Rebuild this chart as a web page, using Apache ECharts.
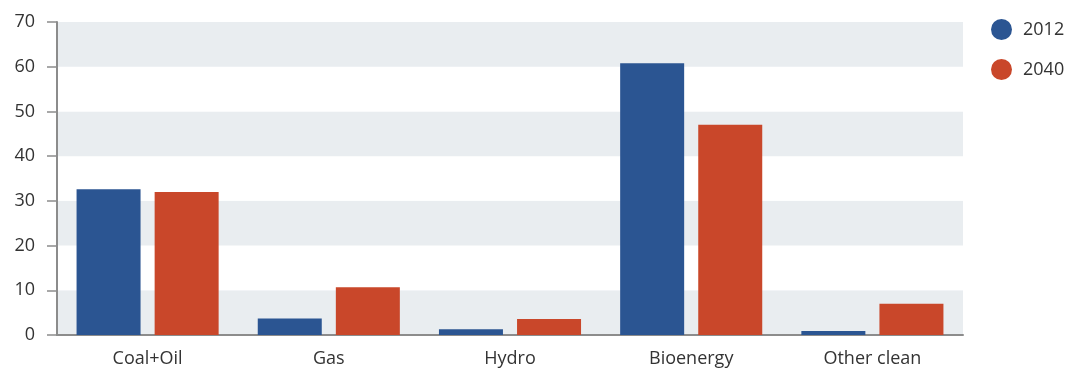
<!DOCTYPE html>
<html>
<head>
<meta charset="utf-8">
<script src="https://cdn.jsdelivr.net/npm/echarts@6/dist/echarts.min.js"></script>
<style>
  html, body { margin: 0; padding: 0; background: #fff; }
  #chart { width: 1068px; height: 371px; }
</style>
</head>
<body>
<div id="chart"></div>
<script>
// Energy sources compared for two years
const categories = ['Coal+Oil', 'Gas', 'Hydro', 'Bioenergy', 'Other clean'];
const seriesNames = ['2012', '2040'];
const values2012 = [32.6, 3.7, 1.3, 60.8, 0.9];
const values2040 = [32.0, 10.7, 3.6, 47.0, 7.0];
const yTicks = [0, 10, 20, 30, 40, 50, 60, 70];

const FONT = '"Open Sans", Lato, sans-serif';
const TEXT = '#333333';
const AXIS = '#8c8c8c';

const chart = echarts.init(document.getElementById('chart'), null, { renderer: 'canvas' });

chart.setOption({
  animation: false,
  color: ['#2b5592', '#c9472a'],
  textStyle: { fontFamily: FONT },
  grid: { left: 57, right: 105, top: 22, bottom: 36, containLabel: false },
  legend: {
    orient: 'vertical',
    left: 991,
    top: 19,
    padding: 0,
    icon: 'circle',
    itemWidth: 21,
    itemHeight: 21,
    itemGap: 19,
    textStyle: { fontFamily: FONT, fontSize: 18, color: TEXT, padding: [0, 0, 0, 6] },
    data: seriesNames
  },
  xAxis: {
    type: 'category',
    data: categories,
    axisLine: { lineStyle: { color: AXIS, width: 2 } },
    axisTick: { show: false },
    axisLabel: { margin: 15, fontFamily: FONT, fontSize: 18, color: TEXT }
  },
  yAxis: {
    type: 'value',
    min: yTicks[0],
    max: yTicks[yTicks.length - 1],
    interval: 10,
    axisLine: { show: true, lineStyle: { color: AXIS, width: 2 } },
    axisTick: { show: true, length: 10, lineStyle: { color: AXIS, width: 1.5 } },
    axisLabel: { margin: 22, fontFamily: FONT, fontSize: 18, color: TEXT },
    splitLine: { show: false },
    splitArea: { show: true, areaStyle: { color: ['#e9edf0', '#ffffff'] } }
  },
  series: [
    {
      name: seriesNames[0],
      type: 'bar',
      data: values2012,
      barWidth: 64,
      barGap: '22%'
    },
    {
      name: seriesNames[1],
      type: 'bar',
      data: values2040,
      barWidth: 64,
      barGap: '22%'
    }
  ]
});
</script>
</body>
</html>
